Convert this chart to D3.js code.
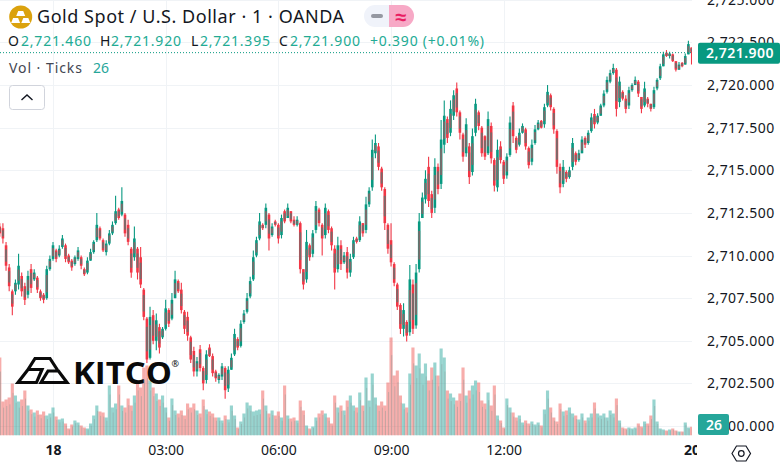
<!DOCTYPE html>
<html><head><meta charset="utf-8">
<script src="https://cdnjs.cloudflare.com/ajax/libs/d3/7.8.5/d3.min.js"></script>
<style>
html,body{margin:0;padding:0;background:#fff}
svg{display:block}
text{font-family:"Noto Sans",sans-serif}
</style></head><body>
<svg id="c" width="780" height="467"></svg>
<script>
// 5-minute bars, prices are quoted above this base
const priceBase = 2700;
const barMinutes = 5, firstMinute = -85;
const opens = [11.7,11.6,10.6,9.3,7.9,7.9,8.3,8.8,8.2,7.7,
9.2,8.6,8.7,7.9,7.7,7.5,9.2,9.8,10.3,10.0,
10.5,10.6,10.0,9.7,9.5,9.8,9.9,9.2,9.0,9.7,
10.2,10.9,11.6,10.9,10.2,10.7,11.3,11.9,12.7,12.4,
12.4,11.8,10.4,9.9,10.4,9.9,8.0,6.3,4.0,6.5,
5.0,5.8,5.2,5.7,6.8,6.3,7.5,8.5,8.0,6.7,
6.4,5.2,4.4,3.2,4.5,3.4,2.7,4.6,4.1,3.2,
2.7,2.9,3.4,2.2,3.3,4.2,5.1,4.7,6.1,6.7,
7.6,8.6,10.0,11.0,11.8,11.8,12.4,11.2,12.0,11.8,
11.2,12.6,12.2,12.6,12.1,11.8,11.9,9.2,8.6,10.6,
10.1,11.5,12.7,11.8,11.2,12.6,11.6,10.4,9.2,10.6,
9.6,10.2,9.0,9.9,11.0,10.9,11.9,11.5,13.0,14.0,
16.0,16.4,15.1,13.9,11.8,10.9,9.5,8.3,7.1,5.7,
6.1,5.5,8.3,5.9,9.2,12.2,13.3,15.2,13.6,12.8,
15.2,14.2,16.5,18.0,17.2,18.2,19.8,18.4,17.1,16.0,
16.4,14.9,17.2,18.4,17.5,17.0,16.0,17.6,15.6,14.0,
16.4,15.5,14.7,15.9,18.8,16.9,16.5,17.2,17.4,16.3,
15.5,16.6,17.4,17.9,17.7,18.8,19.4,18.6,17.3,15.2,
14.2,14.9,14.6,15.2,16.0,15.6,16.0,16.9,16.6,17.3,
18.3,17.8,18.2,18.8,19.6,20.2,20.7,20.9,19.0,19.6,
19.2,18.8,19.7,20.0,20.2,19.3,18.8,19.2,18.9,18.7,
19.8,20.4,21.1,21.9,21.7,21.8,21.4,20.9,21.3,21.2,
21.8,22.2];
const closes = [11.3,11.0,9.4,8.2,7.0,8.4,9.4,7.9,7.4,8.8,
8.1,9.0,8.0,7.5,7.4,9.2,9.8,10.6,9.8,10.4,
11.0,9.8,9.6,9.3,9.9,10.3,9.4,8.9,9.7,10.2,
10.8,11.8,11.0,10.3,10.7,11.3,11.8,12.6,12.2,13.2,
11.3,10.8,9.0,11.0,9.0,8.3,6.4,3.9,6.4,5.0,
6.2,4.6,5.7,6.9,6.0,7.4,8.6,7.9,6.8,5.7,
5.3,3.9,3.2,3.8,3.4,2.5,4.2,4.1,3.1,2.8,
3.0,3.5,2.1,3.3,4.0,5.4,4.6,6.0,6.6,7.5,
8.5,9.9,10.9,12.0,11.6,12.8,11.0,11.7,11.8,11.0,
12.2,12.0,12.8,12.0,11.8,12.1,9.2,8.3,10.8,9.9,
11.3,12.9,11.9,11.0,12.8,11.5,10.6,9.0,10.6,9.5,
10.0,9.0,9.8,10.9,10.8,12.0,11.3,13.0,13.8,16.2,
16.6,15.2,14.0,11.9,10.4,9.6,8.4,7.0,5.7,6.8,
5.3,8.6,5.7,9.0,12.0,13.4,14.5,13.2,12.5,15.2,
13.9,16.8,18.2,16.9,18.6,19.4,18.4,17.2,15.8,17.7,
14.6,17.0,18.9,17.6,16.0,15.8,18.0,15.7,14.1,16.2,
15.6,14.5,15.8,17.8,17.0,16.2,17.2,17.6,16.4,15.3,
16.5,17.4,17.8,17.5,18.7,19.6,18.7,17.4,15.2,14.0,
15.2,14.5,15.0,16.6,15.5,16.0,16.8,16.5,17.2,18.1,
17.7,18.2,18.8,19.5,20.3,20.7,21.0,18.6,20.2,19.2,
18.6,19.7,20.0,20.3,19.5,18.6,19.8,18.9,18.6,19.7,
20.3,21.1,21.8,21.7,21.85,21.4,20.9,21.2,21.1,21.7,
22.4,21.9];
const highs = [11.9,11.9,10.8,9.5,8.0,8.6,10.1,9.0,8.4,9.1,
9.5,9.2,8.8,8.0,7.8,9.4,10.0,10.8,10.4,10.6,
11.2,10.7,10.1,9.8,10.0,10.5,10.0,9.3,9.9,10.4,
10.9,12.5,11.7,11.0,10.9,11.5,12.0,13.5,12.8,14.0,
12.5,12.1,10.5,11.7,10.5,10.5,8.1,6.4,7.0,6.8,
6.6,6.0,5.8,7.4,6.9,7.8,9.1,8.6,8.4,6.8,
6.7,5.3,4.65,4.05,4.75,3.5,4.45,4.8,4.25,3.3,
3.1,3.7,3.5,3.5,4.25,5.7,5.2,6.2,6.8,7.8,
8.75,10.3,11.1,12.5,11.9,13.05,12.5,11.9,12.1,11.9,
12.4,12.7,13.05,12.6,12.3,12.3,12.0,9.2,11.5,10.7,
11.5,13.2,12.8,11.9,13.05,12.7,11.7,10.6,11.1,10.9,
10.2,10.5,10.1,11.1,11.1,12.3,11.9,13.45,14.0,16.8,
17.1,16.6,15.2,14.0,11.9,11.9,9.6,8.4,7.2,7.2,
6.2,9.45,8.6,9.5,12.5,13.7,15.0,15.8,13.8,15.7,
15.4,17.95,19.1,18.15,19.1,19.7,20.15,18.5,17.2,18.05,
16.6,17.45,19.2,18.5,17.6,17.05,18.45,17.8,15.7,16.8,
16.7,15.6,16.0,18.15,19.0,17.0,17.45,17.75,17.5,16.4,
16.8,17.65,17.95,17.95,18.9,20.0,19.5,18.7,17.4,15.4,
15.6,15.0,15.2,16.9,16.1,16.2,17.0,17.0,17.35,18.35,
18.6,18.35,18.9,19.7,20.5,20.9,21.25,21.0,20.5,19.7,
19.4,19.9,20.1,20.5,20.3,19.3,20.2,19.3,18.9,19.9,
20.4,21.25,21.95,22.05,21.95,21.85,21.4,21.35,21.35,21.85,
22.6,22.2];
const lows = [11.1,10.7,9.1,7.9,6.5,7.7,8.0,7.6,7.1,7.5,
7.8,8.5,7.8,7.35,7.2,7.4,9.1,9.7,9.6,9.9,
10.4,9.6,9.5,9.1,9.4,9.7,9.2,8.8,8.9,9.7,
10.1,10.8,10.9,10.2,10.0,10.6,11.2,11.8,12.1,12.3,
11.1,10.6,8.7,9.7,8.6,8.1,6.2,3.7,3.9,4.8,
4.45,4.25,5.1,5.6,5.8,6.2,7.5,7.8,6.6,5.4,
5.0,3.7,2.9,2.9,3.2,2.1,2.5,4.05,2.9,2.6,
2.5,2.7,1.6,2.0,3.3,4.1,4.45,4.6,6.0,6.6,
7.5,8.5,9.9,10.9,11.5,11.6,10.3,11.1,11.7,10.7,
11.0,11.9,12.2,11.9,11.7,11.7,8.95,8.0,8.4,9.7,
9.9,11.3,11.7,10.0,11.0,11.3,10.3,8.0,9.0,9.15,
9.5,8.65,8.75,9.8,10.7,10.8,11.1,11.3,12.85,13.8,
15.7,15.0,13.8,11.5,10.1,9.35,8.2,6.8,5.4,5.25,
4.95,5.3,5.4,5.7,9.0,12.2,13.05,12.85,12.2,12.5,
13.6,13.9,16.0,16.6,17.0,17.95,18.15,16.8,15.5,15.8,
14.2,14.7,17.0,17.35,15.8,15.6,15.9,15.4,13.75,13.75,
15.4,14.2,14.5,15.8,16.6,16.0,16.4,17.15,16.2,15.1,
15.3,16.5,17.35,17.45,17.5,18.7,18.5,17.15,14.8,13.65,
14.0,14.3,14.5,15.0,15.3,15.5,16.0,16.3,16.5,17.2,
17.45,17.7,18.2,18.7,19.5,20.1,20.6,18.15,18.7,19.1,
18.35,18.6,19.6,20.0,19.3,18.35,18.7,18.7,18.45,18.6,
19.7,20.3,21.1,21.65,21.55,21.35,20.8,20.9,21.05,21.2,
21.8,21.2];
const volumes = [234,102,108,114,156,120,102,108,135,90,
78,69,75,63,72,60,66,84,57,48,
51,36,21,33,45,39,30,24,21,36,
60,90,72,69,54,150,84,96,150,90,
84,111,90,120,165,144,204,210,165,144,
126,108,120,84,54,111,75,66,75,60,
96,84,96,75,66,108,78,72,66,54,
54,45,60,48,90,60,24,42,66,99,
90,72,75,78,135,90,66,75,60,72,
54,150,60,51,54,45,105,75,30,21,
27,54,66,75,66,54,36,120,84,90,
75,105,120,90,84,129,90,174,105,186,
114,90,102,90,159,294,180,195,120,96,
84,186,264,210,246,186,216,165,204,219,
180,261,234,135,126,114,105,126,204,120,
135,150,165,159,105,96,129,90,150,60,
45,24,111,84,69,54,60,39,45,36,
42,33,39,30,78,135,84,54,42,96,
72,75,84,66,60,48,66,45,54,66,
99,66,60,66,54,75,66,111,45,24,
21,24,21,24,36,27,42,36,60,108,
42,21,18,15,18,21,15,12,12,39,
24,26];
const priceTicks = [2700,2702.5,2705,2707.5,2710,2712.5,2715,2717.5,2720,2722.5,2725];
const timeTicks = [0,180,360,540,720,1020];
const timeLabels = ["18","03:00","06:00","09:00","12:00","20"];
const boldTimeLabels = ["18","20"];
const lastPrice = 2721.9, lastVolume = 26;
const titleText = "Gold Spot / U.S. Dollar · 1 · OANDA";
const ohlcLabels = ["O","H","L","C"];
const ohlcValues = ["2,721.460","2,721.920","2,721.395","2,721.900"];
const changeText = "+0.390 (+0.01%)";

const UP="#089981", DOWN="#f23645", MIX="#7b6a6a", GRID="#f0f3f6", INK="#131722", READ="#22ab94";
const PANE_R=692, PANE_B=435.5;
const svg=d3.select("#c");
const x=d3.scaleLinear().domain([-85,1020]).range([53-85*0.626,53+1020*0.626]);
const y=d3.scaleLinear().domain([2700,2725]).range([426,-0.2]);
const yVol=d3.scaleLinear().domain([0,300]).range([435.5,335.5]);
const bars=d3.range(opens.length).map(i=>({m:firstMinute+i*barMinutes,o:priceBase+opens[i],c:priceBase+closes[i],h:priceBase+highs[i],l:priceBase+lows[i],v:volumes[i]}));

const defs=svg.append("defs");
defs.append("clipPath").attr("id","pane").append("rect").attr("width",PANE_R).attr("height",PANE_B);
defs.append("clipPath").attr("id","taxis").append("rect").attr("x",0).attr("y",PANE_B).attr("width",697).attr("height",40);

// grid
const grid=svg.append("g").attr("clip-path","url(#pane)");
grid.selectAll(".h").data(priceTicks).join("line").attr("x1",0).attr("x2",PANE_R).attr("y1",d=>Math.round(y(d))+.5).attr("y2",d=>Math.round(y(d))+.5).attr("stroke",GRID);
grid.selectAll(".v").data(timeTicks).join("line").attr("y1",0).attr("y2",PANE_B).attr("x1",d=>Math.round(x(d))+.5).attr("x2",d=>Math.round(x(d))+.5).attr("stroke",GRID);

// volume
const pane=svg.append("g").attr("clip-path","url(#pane)");
const vols=pane.append("g");
vols.selectAll("rect").data(bars).join("rect")
 .attr("x",d=>x(d.m)-1.57).attr("width",3.14).attr("y",d=>yVol(d.v)).attr("height",d=>yVol(0)-yVol(d.v))
 .attr("fill",d=>d.c>=d.o?"#26a69a":"#ef5350").attr("opacity",.48);
vols.selectAll("line").data(bars).join("line")
 .attr("x1",d=>x(d.m)+.7).attr("x2",d=>x(d.m)+.7).attr("y1",d=>yVol(d.v*.82)).attr("y2",yVol(0))
 .attr("stroke","#8a9a96").attr("stroke-width",1).attr("opacity",.45);
// candles: wick, coloured body, and a darker core where one-minute bars overlap in the reference
const candles=pane.append("g");
candles.selectAll("line").data(bars).join("line")
 .attr("x1",d=>x(d.m)).attr("x2",d=>x(d.m)).attr("y1",d=>y(d.h)).attr("y2",d=>y(d.l))
 .attr("stroke",d=>d.c>=d.o?UP:DOWN).attr("stroke-width",1.1);
candles.selectAll(".b").data(bars).join("rect").attr("class","b")
 .attr("x",d=>x(d.m)-1.3).attr("width",2.6)
 .attr("y",d=>y(Math.max(d.o,d.c))).attr("height",d=>Math.max(1,Math.abs(y(d.o)-y(d.c))))
 .attr("fill",d=>d.c>=d.o?UP:DOWN);
candles.selectAll(".m").data(bars).join("rect").attr("class","m")
 .attr("x",d=>x(d.m)-.95).attr("width",1.9)
 .attr("y",d=>y(Math.max(d.o,d.c))+Math.abs(y(d.o)-y(d.c))*.2).attr("height",d=>Math.abs(y(d.o)-y(d.c))*.6)
 .attr("fill",MIX);

// last-price dotted line
pane.append("line").attr("x1",0).attr("x2",PANE_R).attr("y1",y(lastPrice)).attr("y2",y(lastPrice))
 .attr("stroke",UP).attr("stroke-dasharray","1 2");

// axes
const yAxis=d3.axisRight(y).tickValues(priceTicks).tickFormat(d3.format(",.3f")).tickSize(0).tickPadding(15);
const ga=svg.append("g").attr("transform",`translate(${PANE_R},0)`).call(yAxis);
ga.select(".domain").remove();
ga.selectAll("text").style("font-size","14px").style("letter-spacing",".45px").style("fill",INK).style("font-family",'"Noto Sans",sans-serif');
const xAxis=d3.axisBottom(x).tickValues(timeTicks).tickFormat((d,i)=>timeLabels[i]).tickSize(0).tickPadding(10);
const gx=svg.append("g").attr("clip-path","url(#taxis)").append("g").attr("transform",`translate(0,${PANE_B})`).call(xAxis);
gx.select(".domain").remove();
gx.selectAll("text").style("font-size","14px").style("fill",INK).style("font-family",'"Noto Sans",sans-serif')
 .style("font-weight",d=>boldTimeLabels.includes(timeLabels[timeTicks.indexOf(d)])?"700":"400");

// price badges
svg.append("rect").attr("x",698).attr("y",y(lastPrice)-10).attr("width",82).attr("height",21).attr("rx",2).attr("fill",UP);
svg.append("text").attr("x",740).attr("y",y(lastPrice)+5.5).attr("text-anchor","middle").attr("fill","#fff").style("font-size","14px").style("letter-spacing",".45px").style("font-weight",600).text(d3.format(",.3f")(lastPrice));
svg.append("rect").attr("x",698).attr("y",414).attr("width",31).attr("height",21).attr("rx",2).attr("fill","#26a69a");
svg.append("text").attr("x",714).attr("y",429.5).attr("text-anchor","middle").attr("fill","#fff").style("font-size","14px").style("font-weight",600).text(lastVolume);

// settings hexagon
svg.append("path").attr("d","M732,453.5 L736.5,446 L746,446 L750.5,453.5 L746,461 L736.5,461 Z").attr("fill","none").attr("stroke",INK).attr("stroke-width",1.2);
svg.append("circle").attr("cx",741.3).attr("cy",453.5).attr("r",2.8).attr("fill","none").attr("stroke",INK).attr("stroke-width",1.2);

// KITCO logo
const logo=svg.append("g");
logo.append("path").attr("d","M18,382.5 L28,369.5 L42,369.5 L36.5,382.5 Z M41,382.5 L48,371 L58.5,371 L67,382.5 Z M28,369.5 L35,358.5 L50,358.5 L57.5,370")
 .attr("fill","none").attr("stroke","#0a0a0a").attr("stroke-width",3.2).attr("stroke-linejoin","miter");
logo.append("text").attr("x",73).attr("y",384).attr("textLength",99).attr("lengthAdjust","spacingAndGlyphs")
 .style("font-family",'"Open Sans",sans-serif').style("font-size","31px").style("font-weight",700).attr("fill","#0a0a0a").text("KITCO");
logo.append("text").attr("x",171.5).attr("y",367).style("font-size","9px").attr("fill","#0a0a0a").text("®");

// header
svg.append("circle").attr("cx",20.7).attr("cy",17).attr("r",11.5).attr("fill","#dba20d");
const gold=[[20.7,11],[15.6,18],[25.8,18]];
svg.selectAll(".gb").data(gold).join("path").attr("d",d=>`M${d[0]-2.5},${d[1]} h5 l2,5 h-9 Z`).attr("fill","#fff");
svg.append("text").attr("x",37).attr("y",23).attr("fill",INK).style("font-size","18px").attr("textLength",307).text(titleText);
// status pill
svg.append("path").attr("d","M389,5 H375 a11,11 0 0 0 0,22 H389 Z").attr("fill","#f0f3fa");
svg.append("path").attr("d","M389,5 H403 a11,11 0 0 1 0,22 H389 Z").attr("fill","#f7a9c6");
svg.append("rect").attr("x",371).attr("y",14).attr("width",12).attr("height",4).attr("rx",2).attr("fill","#9598a1");
svg.append("text").attr("x",401).attr("y",23.5).attr("text-anchor","middle").attr("fill","#e91e63").style("font-size","20px").style("font-weight",700).text("≈");

// OHLC row
const lx=[8,100,191,279], vx=[21,111,200,290];
ohlcLabels.forEach((l,i)=>{
 svg.append("text").attr("x",lx[i]).attr("y",46).attr("fill",INK).style("font-size","14px").text(l);
 svg.append("text").attr("x",vx[i]).attr("y",46).attr("fill",READ).style("font-size","14px").attr("textLength",70).text(ohlcValues[i]);
});
svg.append("text").attr("x",370).attr("y",46).attr("fill",READ).style("font-size","14px").attr("textLength",114).text(changeText);
svg.append("text").attr("x",9).attr("y",73).attr("fill","#434651").style("font-size","14px").attr("textLength",73).text("Vol · Ticks");
svg.append("text").attr("x",93).attr("y",73).attr("fill","#26a69a").style("font-size","14px").text(lastVolume);

// collapse button
svg.append("rect").attr("x",9.5).attr("y",85.5).attr("width",35).attr("height",24).attr("rx",3).attr("fill","#fff").attr("stroke","#d1d4dc");
svg.append("path").attr("d","M21.5,100 L27,95 L32.5,100").attr("fill","none").attr("stroke",INK).attr("stroke-width",1.4);
</script>
</body></html>
